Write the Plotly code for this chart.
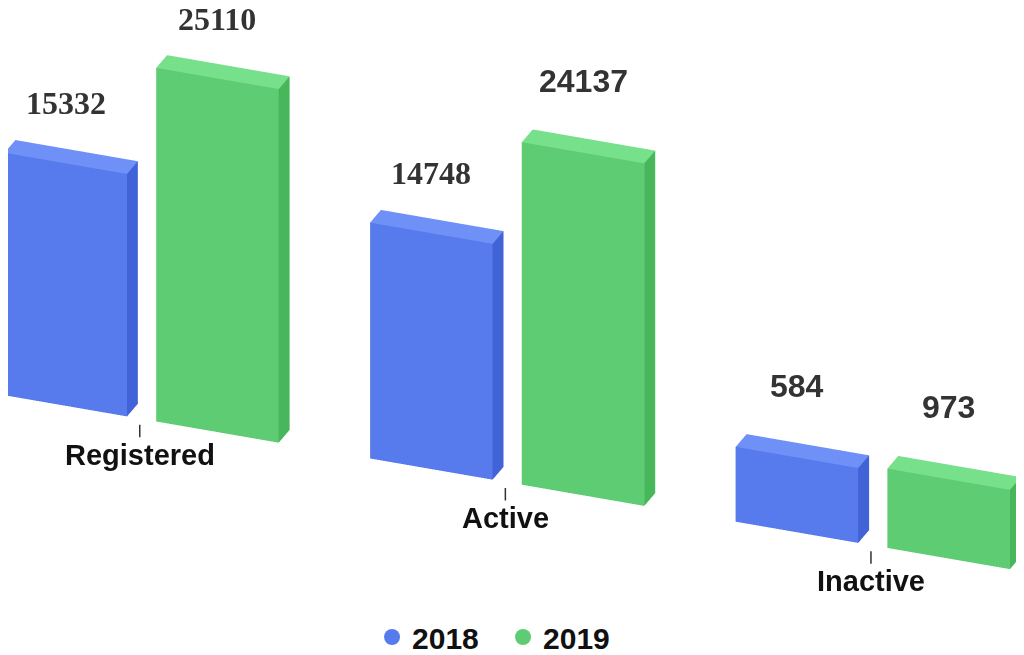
import plotly.graph_objects as go

categories = ["Registered", "Active", "Inactive"]
years = ["2018", "2019"]
values_2018 = [15332, 14748, 584]
values_2019 = [25110, 24137, 973]

colors = {
    "2018": {"front": "#577AEC", "side": "#4262D8", "top": "#6F90F6"},
    "2019": {"front": "#5ECC72", "side": "#48B65B", "top": "#76E08A"},
}

BASE = -6000         # bars start below zero on the hidden value axis
DEPTH = 0.1
SERIF = "Liberation Serif"
SANS = "Liberation Sans"
label_fonts = [[SERIF, SERIF, SANS], [SERIF, SANS, SANS]]


def cuboid(x0, x1, y0, y1, z0, z1, c):
    x = [x0, x1, x1, x0, x0, x1, x1, x0]
    y = [y0, y0, y1, y1, y0, y0, y1, y1]
    z = [z0, z0, z0, z0, z1, z1, z1, z1]
    faces = [
        (0, 1, 5, "front"), (0, 5, 4, "front"),
        (1, 2, 6, "side"), (1, 6, 5, "side"),
        (4, 5, 6, "top"), (4, 6, 7, "top"),
        (0, 3, 7, "side"), (0, 7, 4, "side"),
        (3, 2, 6, "front"), (3, 6, 7, "front"),
        (0, 1, 2, "front"), (0, 2, 3, "front"),
    ]
    return go.Mesh3d(
        x=x, y=y, z=z,
        i=[f[0] for f in faces], j=[f[1] for f in faces], k=[f[2] for f in faces],
        facecolor=[c[f[3]] for f in faces],
        flatshading=True,
        lighting=dict(ambient=1, diffuse=0, specular=0, fresnel=0),
        hoverinfo="skip", showscale=False,
    )


fig = go.Figure()
annotations = []
for s, (year, vals) in enumerate(zip(years, [values_2018, values_2019])):
    for i, v in enumerate(vals):
        x0, x1 = (i - 0.37, i - 0.035) if s == 0 else (i + 0.045, i + 0.38)
        fig.add_trace(cuboid(x0, x1, 0, DEPTH, BASE, v, colors[year]))
        fam = label_fonts[s][i]
        annotations.append(dict(
            x=(x0 + x1) / 2, y=0, z=v, text=f"<b>{v}</b>",
            showarrow=False, yshift=60 if fam == SERIF else 72,
            font=dict(family=fam, size=32, color="#333"),
        ))

for i, cat in enumerate(categories):
    annotations.append(dict(
        x=i, y=0, z=BASE, text=f"<b>{cat}</b>",
        showarrow=True, arrowhead=0, arrowwidth=1.5, arrowcolor="#333",
        ax=0, ay=36, standoff=6,
        font=dict(family=SANS, size=29, color="#111"),
    ))

# legend entries
for year in years:
    fig.add_trace(go.Scatter(
        x=[None], y=[None], mode="markers", name=year,
        marker=dict(color=colors[year]["front"], size=16, symbol="circle"),
    ))

axis = dict(visible=False, showgrid=False, zeroline=False, showbackground=False)
fig.update_layout(
    width=1024, height=655,
    margin=dict(l=0, r=0, t=0, b=0),
    paper_bgcolor="white", plot_bgcolor="white",
    xaxis=dict(visible=False), yaxis=dict(visible=False),
    showlegend=True,
    legend=dict(orientation="h", x=0.3555, xanchor="left", y=0.0, yanchor="bottom",
                font=dict(family=SANS, size=30, color="#111", weight="bold"),
                itemwidth=30, entrywidth=86, entrywidthmode="pixels"),
    scene=dict(
        domain=dict(x=[0, 1], y=[0, 1]),
        xaxis=dict(axis, range=[-0.45, 2.45]),
        yaxis=dict(axis, range=[0, DEPTH]),
        zaxis=dict(axis, range=[BASE, 26000]),
        aspectmode="manual",
        aspectratio=dict(x=3.469, y=0.093, z=1.243),
        camera=dict(
            projection=dict(type="orthographic"),
            eye=dict(x=0.8, y=-2.0, z=0.94),
            center=dict(x=0.03, y=0, z=-0.1375),
            up=dict(x=0, y=0, z=1),
        ),
        annotations=annotations,
    ),
)

fig.write_html("out.html")
